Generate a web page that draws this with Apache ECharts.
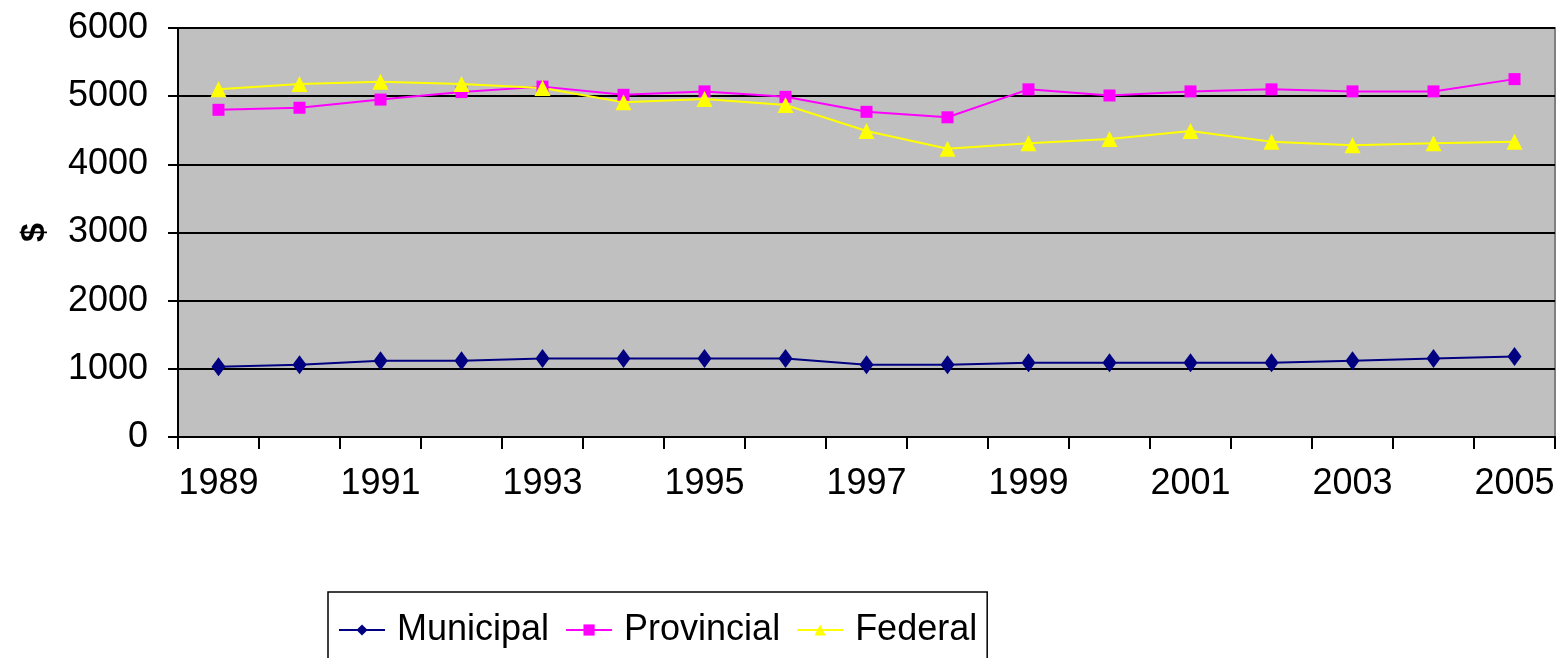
<!DOCTYPE html>
<html>
<head>
<meta charset="utf-8">
<script src="https://cdn.jsdelivr.net/npm/echarts@6/dist/echarts.min.js"></script>
<style>
html,body{margin:0;padding:0;background:#fff;}
#chart{width:1564px;height:658px;}
</style>
</head>
<body>
<div id="chart"></div>
<script>
const years = ['1989','1990','1991','1992','1993','1994','1995','1996','1997','1998','1999','2000','2001','2002','2003','2004','2005'];
const municipal = [1030,1060,1120,1120,1150,1150,1150,1150,1060,1060,1090,1090,1090,1090,1120,1150,1180];
const provincial = [4800,4830,4950,5060,5140,5020,5070,4990,4770,4690,5100,5010,5070,5100,5070,5070,5250];
const federal = [5100,5180,5210,5180,5120,4910,4960,4870,4490,4230,4310,4370,4490,4330,4280,4310,4330];
const yTicks = {min: 0, max: 6000, interval: 1000};

const font = '"Liberation Sans", Arial, sans-serif';
const fs = 36;
const chart = echarts.init(document.getElementById('chart'));
function mk(name, data, color, symbol, size) {
  return {
    name: name, type: 'line', data: data,
    symbol: symbol, symbolSize: size,
    lineStyle: {color: color, width: 2},
    itemStyle: {color: color},
    animation: false
  };
}
chart.setOption({
  animation: false,
  grid: {left: 178, right: 9, top: 28, bottom: 221, show: true,
         backgroundColor: '#C0C0C0', borderColor: '#808080', borderWidth: 2},
  legend: {
    left: 328, top: 592,
    padding: [20, 10, 30, 10],
    borderColor: '#000', borderWidth: 1.5,
    itemWidth: 46, itemHeight: 14, itemGap: 16,
    textStyle: {fontFamily: font, fontSize: fs, color: '#000', padding: [0, 0, 0, 7]},
    data: ['Municipal', 'Provincial', 'Federal']
  },
  xAxis: {
    type: 'category', data: years, boundaryGap: true,
    axisLine: {lineStyle: {color: '#000', width: 2}},
    axisTick: {show: true, length: 12, interval: 0, lineStyle: {color: '#000', width: 2}},
    axisLabel: {interval: 1, margin: 29, fontFamily: font, fontSize: fs, color: '#000'},
    splitLine: {show: false}
  },
  yAxis: {
    type: 'value', min: yTicks.min, max: yTicks.max, interval: yTicks.interval,
    name: '$', nameLocation: 'middle', nameGap: 126, nameRotate: 90,
    nameTextStyle: {fontFamily: font, fontSize: 34, fontWeight: 'bold', color: '#000'},
    axisLine: {show: true, lineStyle: {color: '#000', width: 2}},
    axisTick: {show: true, length: 10, lineStyle: {color: '#000', width: 2}},
    axisLabel: {margin: 30, fontFamily: font, fontSize: fs, color: '#000', formatter: function (v) { return String(v); }},
    splitLine: {show: true, lineStyle: {color: '#000', width: 2}}
  },
  series: [
    mk('Municipal', municipal, '#000080', 'diamond', [14, 19]),
    mk('Provincial', provincial, '#FF00FF', 'rect', 12),
    mk('Federal', federal, '#FFFF00', 'triangle', 16)
  ]
});
</script>
</body>
</html>
